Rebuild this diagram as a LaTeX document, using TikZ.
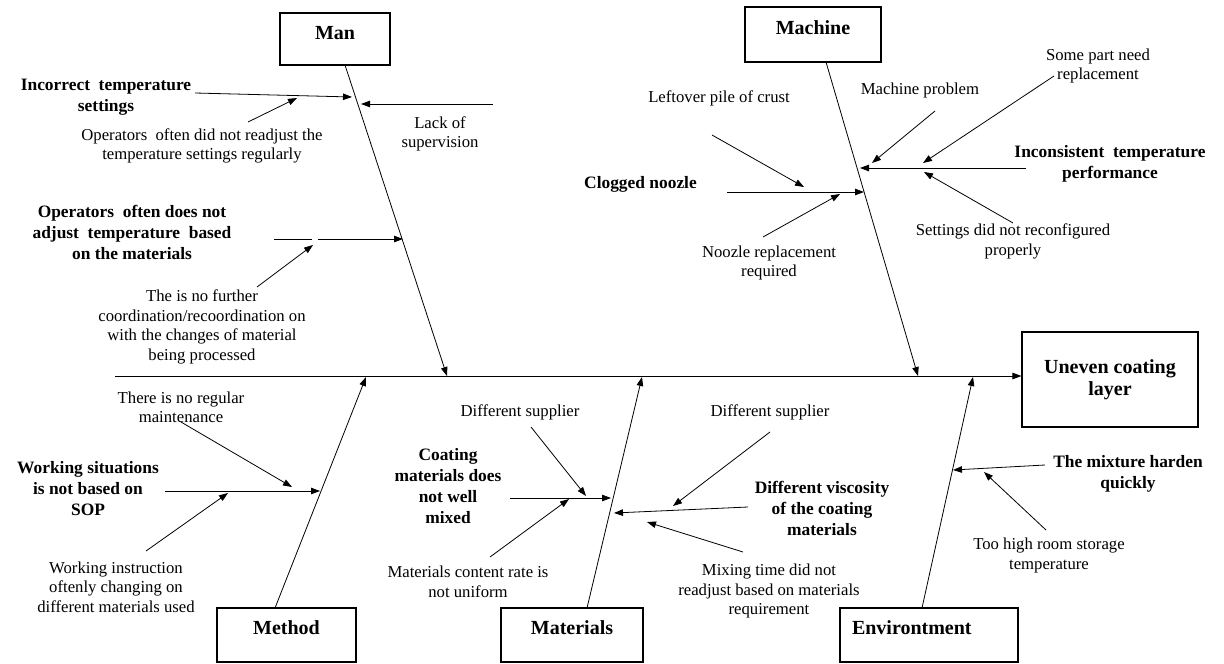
\documentclass[tikz,border=0pt]{standalone}
\usepackage{fontspec}
\setmainfont{Liberation Serif}
\usetikzlibrary{arrows.meta,calc}

\begin{document}
\begin{tikzpicture}[x=1pt,y=-1pt,
  bone/.style={line width=0.8pt,-{Triangle[length=9pt,width=6.5pt]}},
  twig/.style={line width=0.8pt,-{Triangle[length=9pt,width=6.5pt]}},
  plain/.style={line width=0.8pt},
  catbox/.style={draw,line width=1.1pt,inner sep=0pt,
    font=\fontsize{20}{22}\selectfont\bfseries},
  cause/.style={align=center,inner sep=0pt,
    font=\fontsize{17.4}{21}\selectfont\bfseries},
  sub/.style={align=center,inner sep=0pt,
    font=\fontsize{16.7}{19.5}\selectfont},
]
\fill[white] (0,0) rectangle (1224,664);
\useasboundingbox (0,0) rectangle (1224,664);

% ---------- effect and spine ----------
\node[catbox,align=center,minimum width=176pt,minimum height=95pt] (effect)
  at (1110,379.5) {Uneven coating\\layer};
\coordinate (tail) at (115,376);
\draw[bone] (tail) -- (tail -| effect.west);

% ---------- category boxes ----------
\node[catbox,minimum width=110pt,text height=26pt,text depth=26pt] (man) at (335,39) {Man};
\node[catbox,minimum width=136pt,text height=27pt,text depth=28pt] (machine) at (813,34.5) {Machine};
\node[catbox,minimum width=139pt,text height=26pt,text depth=28pt] (method) at (286.5,635) {Method};
\node[catbox,minimum width=142pt,text height=26pt,text depth=28pt] (materials) at (572,635) {Materials};
\node[catbox,text width=154pt,inner xsep=12pt,align=left,text height=26pt,text depth=28pt] (env) at (929,635) {Environtment};

% ---------- main bones ----------
\coordinate (manT) at (345,65);    \coordinate (manH) at (447,376);
\coordinate (macT) at (826,62);    \coordinate (macH) at (918,376);
\coordinate (metT) at (275,608);   \coordinate (metH) at (366,377);
\coordinate (matT) at (587,608);   \coordinate (matH) at (642,377);
\coordinate (envT) at (922,608);   \coordinate (envH) at (973,377);
\draw[bone] (manT) -- (manH);
\draw[bone] (macT) -- (macH);
\draw[bone] (metT) -- (metH);
\draw[bone] (matT) -- (matH);
\draw[bone] (envT) -- (envH);

% ---------- Man ----------
\node[cause] (incorrect) at (106,97) {Incorrect\ \ temperature\\settings};
\node[sub] (readjust) at (202,146) {Operators\ \ often did not readjust the\\temperature settings regularly};
\node[sub] (lack) at (440,134) {Lack of\\supervision};
\node[cause] (adjust) at (132,232) {Operators\ \ often does not\\adjust\ \ temperature\ \ based\\on the materials};
\node[sub] (coord) at (202,327) {The is no further\\coordination/recoordination on\\with the changes of material\\being processed};

\coordinate (a1t) at (195,93);   \coordinate (a1h) at (352,97);
\coordinate (a2t) at (248,122);  \coordinate (a2h) at (297,98);
\coordinate (a3t) at (493,104);  \coordinate (a3h) at (361,104);
\coordinate (a4t) at (274,239);  \coordinate (a4g) at (312,239);
\coordinate (a4s) at (318,239);  \coordinate (a4h) at (403,239);
\coordinate (a5t) at (257,287);  \coordinate (a5h) at (313,245);
\draw[twig] (a1t) -- (a1h);
\draw[twig] (a2t) -- (a2h);
\draw[twig] (a3t) -- (a3h);
\draw[plain] (a4t) -- (a4g);
\draw[twig] (a4s) -- (a4h);
\draw[twig] (a5t) -- (a5h);

% ---------- Machine ----------
\node[sub] (leftover) at (719,98) {Leftover pile of crust};
\node[cause,anchor=east] (clogged) at (697,184) {Clogged noozle};
\node[sub] (noozle) at (769,263) {Noozle replacement\\required};
\node[sub] (machprob) at (920,90) {Machine problem};
\node[sub] (somepart) at (1098,66) {Some part need\\replacement};
\node[cause] (inconsistent) at (1110,164) {Inconsistent\ \ temperature\\performance};
\node[sub] (settings) at (1013,241.5) {Settings did not reconfigured\\properly};

\coordinate (b1t) at (712,135);   \coordinate (b1h) at (804,187);
\coordinate (b2t) at (727,192);   \coordinate (b2h) at (864,192);
\coordinate (b3t) at (763,237);   \coordinate (b3h) at (840,194);
\coordinate (b4t) at (935,111);   \coordinate (b4h) at (872,163);
\coordinate (b5t) at (1054,76);   \coordinate (b5h) at (923,163);
\coordinate (b6t) at (1026,168);  \coordinate (b6h) at (860,168);
\coordinate (b7t) at (1013,223);  \coordinate (b7h) at (924,172);
\draw[twig] (b1t) -- (b1h);
\draw[twig] (b2t) -- (b2h);
\draw[twig] (b3t) -- (b3h);
\draw[twig] (b4t) -- (b4h);
\draw[twig] (b5t) -- (b5h);
\draw[twig] (b6t) -- (b6h);
\draw[twig] (b7t) -- (b7h);

% ---------- Method ----------
\node[sub] (maint) at (181,407.5) {There is no regular\\maintenance};
\node[cause] (sop) at (88,489) {Working situations\\is not based on\\SOP};
\node[sub] (instr) at (116,587) {Working instruction\\oftenly changing on\\different materials used};

\coordinate (c1t) at (181,422);  \coordinate (c1h) at (292,487);
\coordinate (c2t) at (165,491);  \coordinate (c2h) at (320,491);
\coordinate (c3t) at (146,551);  \coordinate (c3h) at (228,493);
\draw[twig] (c1t) -- (c1h);
\draw[twig] (c2t) -- (c2h);
\draw[twig] (c3t) -- (c3h);

% ---------- Materials ----------
\node[sub] (supA) at (520,412) {Different supplier};
\node[cause] (mixed) at (448,486.5) {Coating\\materials does\\not well\\mixed};
\node[sub] (content) at (468,582) {Materials content rate is\\not uniform};
\node[sub] (supB) at (770,412) {Different supplier};
\node[cause] (viscosity) at (822,508) {Different viscosity\\of the coating\\materials};
\node[sub] (mixing) at (769,591) {Mixing time did not\\readjust based on materials\\requirement};

\coordinate (d1t) at (510,498);  \coordinate (d1h) at (611,498);
\coordinate (d2t) at (531,427);  \coordinate (d2h) at (586,496);
\coordinate (d3t) at (490,557);  \coordinate (d3h) at (569,499);
\coordinate (d4t) at (748,507);  \coordinate (d4h) at (614,513);
\coordinate (d5t) at (770,432);  \coordinate (d5h) at (673,506);
\coordinate (d6t) at (743,552);  \coordinate (d6h) at (647,522);
\draw[twig] (d1t) -- (d1h);
\draw[twig] (d2t) -- (d2h);
\draw[twig] (d3t) -- (d3h);
\draw[twig] (d4t) -- (d4h);
\draw[twig] (d5t) -- (d5h);
\draw[twig] (d6t) -- (d6h);

% ---------- Environment ----------
\node[cause] (harden) at (1128,473.5) {The mixture harden\\quickly};
\node[sub] (storage) at (1049,555.5) {Too high room storage\\temperature};

\coordinate (e1t) at (1045,465);  \coordinate (e1h) at (953,470);
\coordinate (e2t) at (1046,530);  \coordinate (e2h) at (984,472);
\draw[twig] (e1t) -- (e1h);
\draw[twig] (e2t) -- (e2h);
\end{tikzpicture}
\end{document}
